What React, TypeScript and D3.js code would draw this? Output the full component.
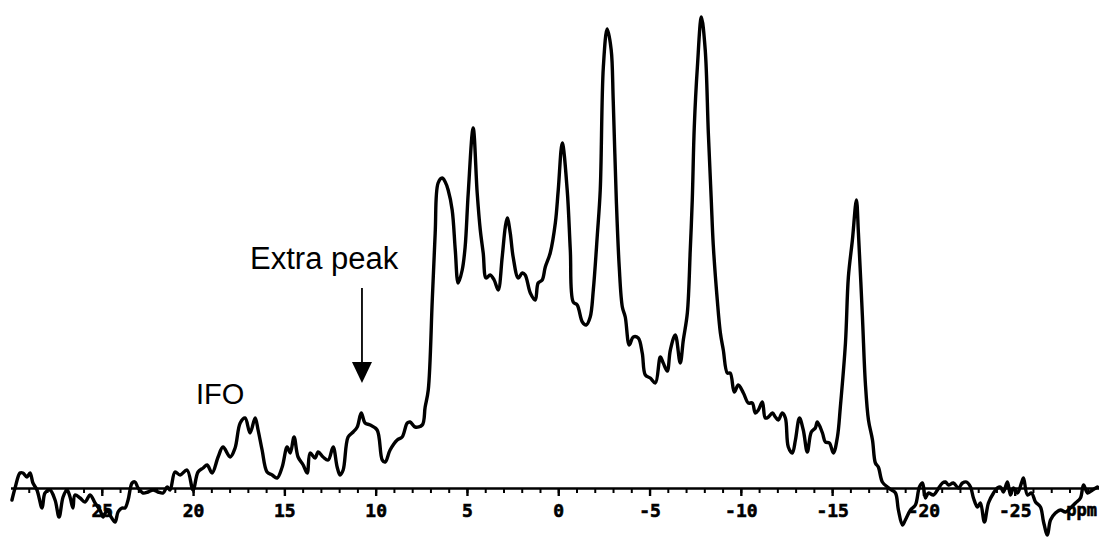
import React, { useEffect, useRef } from "react";
import * as d3 from "d3";

// Chemical shift (ppm) and intensity (a.u.)
const shiftPpm: number[] = [
  29.92, 29.75, 29.48, 29.32, 29.1, 28.93, 28.77, 28.55, 28.27, 28.11,
  27.84, 27.56, 27.34, 27.12, 26.9, 26.74, 26.58, 26.47, 26.19, 25.92,
  25.64, 25.37, 25.1, 24.93, 24.71, 24.49, 24.27, 24.11, 23.89, 23.73,
  23.56, 23.34, 23.18, 23.01, 22.74, 22.47, 22.19, 21.92, 21.64, 21.42,
  21.26, 20.99, 20.71, 20.33, 20.0, 19.73, 19.45, 19.23, 18.96, 18.63,
  18.36, 17.97, 17.7, 17.42, 17.15, 16.88, 16.6, 16.44, 16.22, 15.95,
  15.67, 15.4, 15.12, 14.85, 14.68, 14.47, 14.25, 13.97, 13.75, 13.59,
  13.32, 13.15, 12.88, 12.6, 12.33, 12.11, 11.95, 11.78, 11.51, 11.23,
  11.01, 10.79, 10.58, 10.3, 9.92, 9.64, 9.48, 9.21, 8.82, 8.55,
  8.27, 8.11, 7.84, 7.45, 7.29, 7.12, 6.9, 6.74, 6.58, 6.36,
  6.19, 6.03, 5.81, 5.64, 5.48, 5.26, 5.1, 4.93, 4.66, 4.44,
  4.27, 4.11, 3.95, 3.73, 3.51, 3.29, 3.07, 2.9, 2.79, 2.63,
  2.47, 2.19, 1.97, 1.81, 1.53, 1.26, 1.1, 0.88, 0.71, 0.44,
  0.16, 0.0, -0.22, -0.49, -0.66, -0.82, -1.04, -1.32, -1.53, -1.75,
  -1.92, -2.14, -2.3, -2.47, -2.68, -2.9, -3.01, -3.18, -3.34, -3.51,
  -3.67, -3.89, -4.11, -4.38, -4.6, -4.77, -5.04, -5.32, -5.59, -5.75,
  -5.97, -6.14, -6.41, -6.68, -6.85, -7.07, -7.23, -7.34, -7.45, -7.62,
  -7.84, -8.05, -8.22, -8.38, -8.49, -8.71, -8.88, -9.04, -9.26, -9.42,
  -9.64, -9.86, -10.14, -10.41, -10.63, -10.79, -10.96, -11.18, -11.34, -11.51,
  -11.73, -11.89, -12.05, -12.27, -12.44, -12.6, -12.82, -12.99, -13.21, -13.42,
  -13.64, -13.86, -14.08, -14.19, -14.47, -14.63, -14.85, -15.07, -15.29, -15.45,
  -15.73, -15.89, -16.11, -16.33, -16.44, -16.66, -16.82, -16.99, -17.21, -17.37,
  -17.53, -17.75, -18.03, -18.25, -18.47, -18.63, -18.85, -19.01, -19.29, -19.56,
  -19.78, -19.95, -20.11, -20.27, -20.55, -20.77, -21.04, -21.21, -21.37, -21.64,
  -21.92, -22.14, -22.36, -22.58, -22.74, -22.96, -23.12, -23.34, -23.56, -23.84,
  -24.05, -24.22, -24.38, -24.6, -24.77, -24.93, -25.15, -25.37, -25.48, -25.7,
  -25.92, -26.14, -26.41, -26.58, -26.79, -26.96, -27.23, -27.51, -27.78, -28.05,
  -28.33, -28.6, -28.77, -28.99, -29.26, -29.53,
];

const intensity: number[] = [
  -12, 0, 15, 15, 11, 15, 5, -2, -20, -5,
  -2, -12, -29, -9, -2, -9, -20, -7, -10, -14,
  -7, -15, -22, -29, -22, -29, -34, -24, -20, -20,
  -12, 5, 6, 0, -5, -4, -2, -4, -5, 1,
  -2, 16, 13, 18, -2, 16, 20, 23, 15, 31,
  41, 31, 40, 65, 70, 55, 70, 58, 38, 16,
  13, 10, 21, 41, 35, 51, 31, 23, 15, 35,
  30, 36, 31, 28, 41, 21, 13, 18, 51, 56,
  61, 75, 65, 63, 58, 28, 26, 38, 48, 51,
  65, 66, 61, 63, 81, 98, 188, 255, 305, 310,
  306, 298, 278, 238, 205, 218, 241, 295, 360, 295,
  258, 235, 210, 213, 208, 198, 231, 261, 270, 255,
  231, 210, 215, 213, 195, 188, 205, 208, 221, 235,
  265, 298, 345, 298, 238, 186, 183, 166, 163, 171,
  198, 253, 298, 421, 459, 438, 388, 288, 221, 181,
  171, 143, 151, 150, 135, 113, 110, 105, 131, 125,
  117, 138, 153, 125, 148, 175, 238, 288, 361, 421,
  471, 438, 355, 288, 243, 188, 155, 138, 115, 115,
  96, 103, 95, 85, 85, 75, 78, 86, 70, 71,
  75, 71, 68, 75, 70, 41, 35, 48, 70, 58,
  36, 56, 60, 66, 55, 46, 45, 35, 51, 81,
  145, 211, 248, 288, 255, 171, 105, 68, 48, 25,
  21, 6, 1, -2, -5, -22, -37, -32, -22, -17,
  1, 5, -10, -5, -7, -2, 5, 6, 3, 5,
  0, 5, 6, 1, -10, -19, -15, -34, -15, -5,
  0, 1, -4, 6, -7, 0, -5, 5, 10, -7,
  -5, -14, -19, -34, -47, -32, -25, -22, -24, -20,
  -15, -10, 3, -5, -2, 1,
];

const majorTicks: number[] = [25, 20, 15, 10, 5, 0, -5, -10, -15, -20, -25];
const minorTicks: number[] = d3.range(29, -30, -1);
const unitLabel = "ppm";

const annotations = [
  { text: "Extra peak", ppm: 12.82, level: 219, anchor: "middle", size: 31 },
  { text: "IFO", ppm: 19.84, level: 84, anchor: "start", size: 29 },
];
const arrowAt = { ppm: 10.75, from: 200, headTop: 126, tip: 105 };

const W = 1099;
const H = 540;

export default function App() {
  const ref = useRef<SVGSVGElement | null>(null);

  useEffect(() => {
    const svg = d3.select(ref.current);
    svg.selectAll("*").remove();

    const x = d3.scaleLinear().domain([30, -29.6]).range([10.5, 1098.7]);
    const y = d3.scaleLinear().domain([0, 480]).range([488, 8]);

    // minor ticks
    const minor = d3
      .axisBottom(x)
      .tickValues(minorTicks)
      .tickSize(5)
      .tickSizeOuter(0)
      .tickFormat(() => "");
    const gMinor = svg.append("g").attr("transform", `translate(0,${y(0)})`).call(minor);
    gMinor.select(".domain").attr("stroke", "#000").attr("stroke-width", 2.4);
    gMinor.selectAll(".tick line").attr("stroke", "#000").attr("stroke-width", 2);

    // major ticks + labels
    const major = d3
      .axisBottom(x)
      .tickValues(majorTicks)
      .tickSize(8)
      .tickSizeOuter(0)
      .tickPadding(8)
      .tickFormat((d) => String(d));
    const gMajor = svg.append("g").attr("transform", `translate(0,${y(0)})`).call(major);
    gMajor.select(".domain").remove();
    gMajor.selectAll(".tick line").attr("stroke", "#000").attr("stroke-width", 2.4);
    gMajor
      .selectAll(".tick text")
      .attr("fill", "#000")
      .attr("stroke", "#000")
      .attr("stroke-width", 0.6)
      .attr("font-family", "'DejaVu Sans Mono', monospace")
      .attr("font-weight", "bold")
      .attr("font-size", 18);

    gMajor
      .append("text")
      .attr("x", W - 2)
      .attr("y", 8 + 8)
      .attr("dy", "0.71em")
      .attr("text-anchor", "end")
      .attr("fill", "#000")
      .attr("stroke", "#000")
      .attr("stroke-width", 0.6)
      .attr("font-family", "'DejaVu Sans Mono', monospace")
      .attr("font-weight", "bold")
      .attr("font-size", 17)
      .text(unitLabel);

    // spectrum
    const pts: [number, number][] = shiftPpm.map((p, i) => [p, intensity[i]]);
    const line = d3
      .line<[number, number]>()
      .x((d) => x(d[0]))
      .y((d) => y(d[1]))
      .curve(d3.curveCatmullRom.alpha(0.5));
    svg
      .append("path")
      .datum(pts)
      .attr("d", line)
      .attr("fill", "none")
      .attr("stroke", "#000")
      .attr("stroke-width", 3.4)
      .attr("stroke-linejoin", "round")
      .attr("stroke-linecap", "round");

    // annotations
    annotations.forEach((a) => {
      svg
        .append("text")
        .attr("x", x(a.ppm))
        .attr("y", y(a.level))
        .attr("text-anchor", a.anchor)
        .attr("font-family", "'Liberation Sans', Arial, sans-serif")
        .attr("font-size", a.size)
        .attr("fill", "#000")
        .text(a.text);
    });

    const ax = x(arrowAt.ppm);
    svg
      .append("line")
      .attr("x1", ax)
      .attr("x2", ax)
      .attr("y1", y(arrowAt.from))
      .attr("y2", y(arrowAt.headTop) + 1)
      .attr("stroke", "#000")
      .attr("stroke-width", 1.8);
    svg
      .append("path")
      .attr(
        "d",
        `M${ax - 10},${y(arrowAt.headTop)} L${ax + 10},${y(arrowAt.headTop)} L${ax},${y(arrowAt.tip)} Z`
      )
      .attr("fill", "#000");
  }, []);

  return (
    <svg
      ref={ref}
      width={W}
      height={H}
      style={{ position: "fixed", left: 0, top: 0, background: "#fff" }}
    />
  );
}
